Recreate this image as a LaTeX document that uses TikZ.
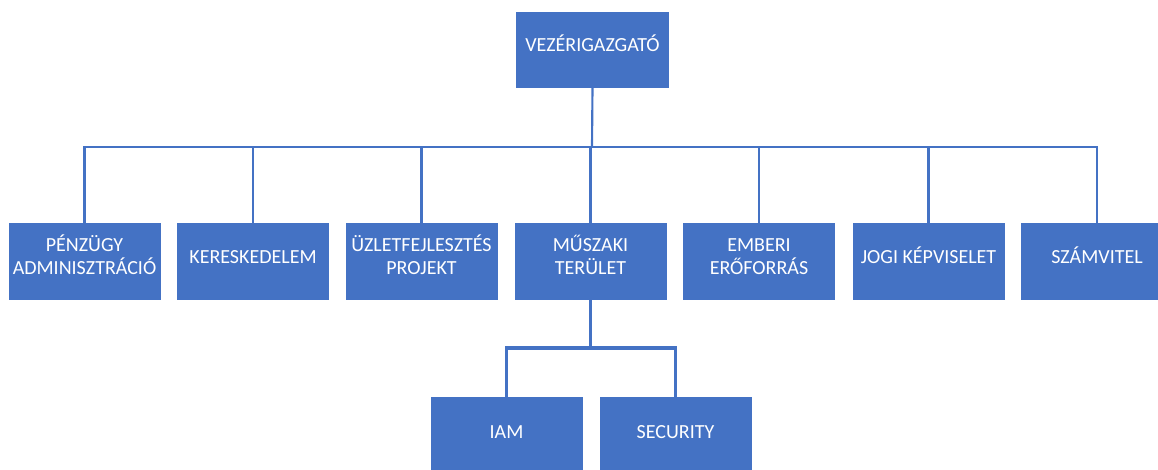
\documentclass[tikz,border=0pt]{standalone}
\usepackage{fontspec}
\setmainfont{Carlito}
\definecolor{boxblue}{HTML}{4472C4}
\begin{document}
\begin{tikzpicture}[x=0.75pt,y=-0.75pt,
  box/.style={fill=boxblue, draw=none, minimum width=114pt, minimum height=57.75pt, inner sep=0pt, outer sep=0pt},
  lbl/.style={text=white, font=\fontsize{15}{17.25}\selectfont, align=center, inner sep=0pt, anchor=base},
  conn/.style={draw=boxblue, line width=1.6pt},
  thick conn/.style={draw=boxblue, line width=2.4pt}]
\useasboundingbox (0,0) rectangle (1158,469);
% top
\node[box, minimum width=114.75pt, minimum height=57pt] (ceo) at (592.5,50) {};
% row
\node[box] (pz) at (84.5,261.5) {};
\node[box] (ker) at (253,261.5) {};
\node[box] (uzl) at (421.5,261.5) {};
\node[box] (mus) at (590.5,261.5) {};
\node[box] (emb) at (759,261.5) {};
\node[box] (jog) at (928.5,261.5) {};
\node[box] (szv) at (1097,261.5) {};
% bottom
\node[box] (iam) at (506.5,435.5) {};
\node[box] (sec) at (675.5,435.5) {};
% connectors
\coordinate (bus) at (592,147);
\draw[conn] (ceo.south) -- (bus);
\draw[conn] (pz.north) |- (bus);
\draw[conn] (ker.north) |- (bus);
\draw[conn] (uzl.north) |- (bus);
\draw[conn] (mus.north) -- (mus.north |- bus);
\draw[conn] (emb.north) |- (bus);
\draw[conn] (jog.north) |- (bus);
\draw[conn] (szv.north) |- (bus);
\coordinate (bus2) at (590.5,348);
\draw[conn] (mus.south) -- (bus2);
\draw[thick conn] (iam.north) |- (bus2) -| (sec.north);
% labels
\node[lbl] (ceot) at (592.5,51.5) {VEZÉRIGAZGATÓ};
\node[lbl] (pzt) at (84.5,274.5) {PÉNZÜGY\\ADMINISZTRÁCIÓ};
\node[lbl] (kert) at (253,263.5) {KERESKEDELEM};
\node[lbl] (uzlt) at (421.5,274.5) {ÜZLETFEJLESZTÉS\\PROJEKT};
\node[lbl] (must) at (590.5,274.5) {MŰSZAKI\\TERÜLET};
\node[lbl] (embt) at (759,274.5) {EMBERI\\ERŐFORRÁS};
\node[lbl] (jogt) at (928.5,263.5) {JOGI KÉPVISELET};
\node[lbl] (szvt) at (1097,263.5) {SZÁMVITEL};
\node[lbl] (iamt) at (506.5,438.5) {IAM};
\node[lbl] (sect) at (675.5,438.5) {SECURITY};
\end{tikzpicture}
\end{document}
